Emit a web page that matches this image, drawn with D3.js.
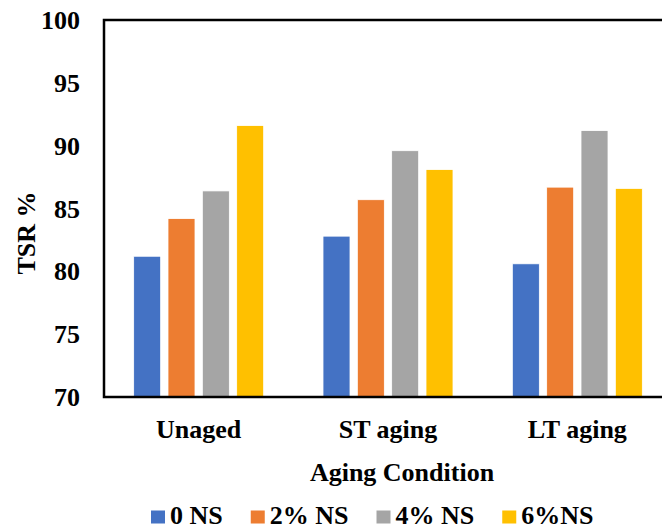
<!DOCTYPE html>
<html>
<head>
<meta charset="utf-8">
<script src="https://cdn.jsdelivr.net/npm/d3@7"></script>
<style>
  body { margin: 0; background: #fff; }
  svg text { font-family: "Liberation Serif", "Times New Roman", serif; font-weight: bold; fill: #000; }
</style>
</head>
<body>
<div id="chart"></div>
<script>
// data
var categories = ["Unaged", "ST aging", "LT aging"];
var seriesNames = ["0 NS", "2% NS", "4% NS", "6%NS"];
var seriesColors = ["#4472C4", "#ED7D31", "#A5A5A5", "#FFC000"];
var ns0 = [81.2, 82.8, 80.6];
var ns2 = [84.2, 85.7, 86.7];
var ns4 = [86.4, 89.6, 91.2];
var ns6 = [91.6, 88.1, 86.6];
var yTicks = [70, 75, 80, 85, 90, 95, 100];

var seriesValues = [ns0, ns2, ns4, ns6];

var W = 662, H = 529;
var plotLeft = 104, plotRight = 672, plotTop = 20, plotBottom = 397;

var svg = d3.select("#chart").append("svg")
  .attr("width", W)
  .attr("height", H);

var x0 = d3.scaleBand()
  .domain(categories)
  .range([plotLeft, plotRight])
  .padding(0);

var x1 = d3.scaleBand()
  .domain(seriesNames)
  .range([0, x0.bandwidth()])
  .paddingInner(0.2135)
  .paddingOuter(0.864);

var y = d3.scaleLinear()
  .domain([70, 100])
  .range([plotBottom, plotTop]);

// bars
var rows = categories.map(function(c, i) {
  return {cat: c, vals: seriesNames.map(function(s, j) {return {name: s, v: seriesValues[j][i], color: seriesColors[j]};})};
});

var groups = svg.selectAll("g.grp")
  .data(rows)
  .enter().append("g")
  .attr("class", "grp")
  .attr("transform", function(d) {return "translate(" + x0(d.cat) + ",0)";});

groups.selectAll("rect")
  .data(function(d) {return d.vals;})
  .enter().append("rect")
  .attr("x", function(d) {return x1(d.name);})
  .attr("y", function(d) {return y(d.v);})
  .attr("width", x1.bandwidth())
  .attr("height", function(d) {return y(70) - y(d.v);})
  .attr("fill", function(d) {return d.color;})
  .attr("stroke", "#fff")
  .attr("stroke-width", 0.8);

// frame
svg.append("rect")
  .attr("x", plotLeft)
  .attr("y", plotTop)
  .attr("width", plotRight - plotLeft)
  .attr("height", plotBottom - plotTop)
  .attr("fill", "none")
  .attr("stroke", "#000")
  .attr("stroke-width", 2.5);

// y axis
var yAxis = svg.append("g")
  .attr("transform", "translate(" + plotLeft + ",0)")
  .call(d3.axisLeft(y).tickValues(yTicks).tickSize(0).tickPadding(24));
yAxis.select(".domain").remove();
yAxis.selectAll("text")
  .attr("font-size", 26)
  .attr("dy", "0.33em")
  .style("font-family", "Liberation Serif, serif")
  .style("font-weight", "bold")
  .attr("fill", "#000");

// x axis labels
var xAxis = svg.append("g")
  .attr("transform", "translate(0," + plotBottom + ")")
  .call(d3.axisBottom(x0).tickSize(0).tickPadding(0));
xAxis.select(".domain").remove();
xAxis.selectAll("text")
  .attr("font-size", 26)
  .attr("y", 41)
  .attr("dy", 0)
  .style("font-family", "Liberation Serif, serif")
  .style("font-weight", "bold")
  .attr("fill", "#000");

// axis titles
svg.append("text")
  .attr("x", 402)
  .attr("y", 481)
  .attr("text-anchor", "middle")
  .attr("font-size", 26)
  .text("Aging Condition");

svg.append("text")
  .attr("transform", "translate(35,233) rotate(-90)")
  .attr("text-anchor", "middle")
  .attr("font-size", 26)
  .text("TSR %");

// legend
var lx = 151;
seriesNames.forEach(function(s, j) {
  var g = svg.append("g").attr("transform", "translate(" + lx + ",0)");
  g.append("rect")
    .attr("x", 0)
    .attr("y", 510.5)
    .attr("width", 14)
    .attr("height", 13)
    .attr("fill", seriesColors[j]);
  var t = g.append("text")
    .attr("x", 19)
    .attr("y", 524)
    .attr("font-size", 26)
    .text(s);
  lx += 19 + t.node().getComputedTextLength() + 28;
});
</script>
</body>
</html>
